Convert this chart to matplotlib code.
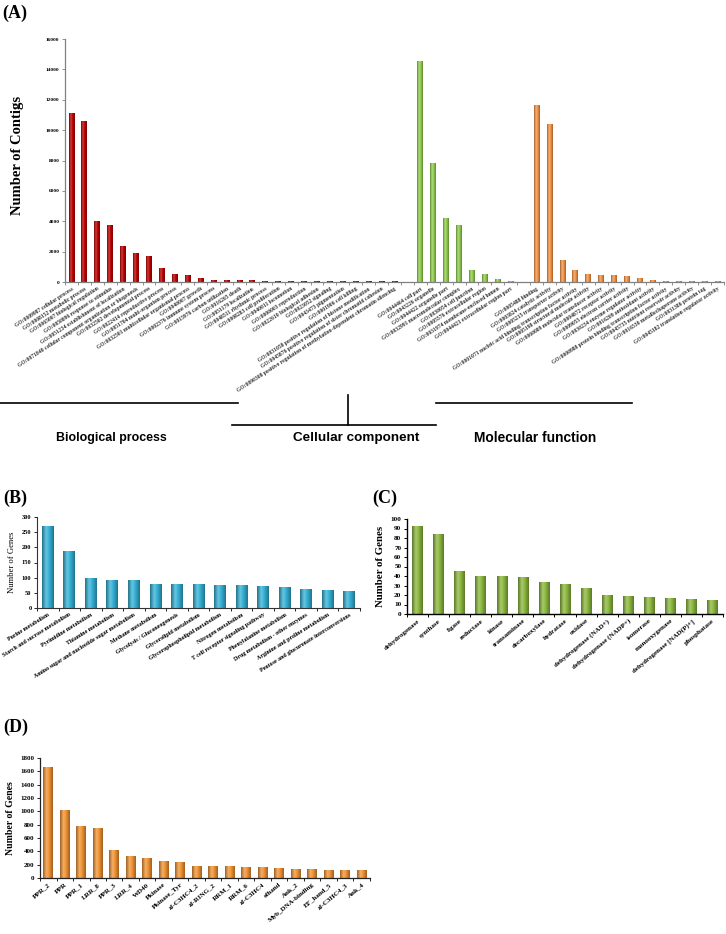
import numpy as np
import matplotlib
matplotlib.use('Agg')
import matplotlib.pyplot as plt
from matplotlib.colors import LinearSegmentedColormap, to_rgb
from matplotlib.lines import Line2D

# ---------------- data ----------------
bp_labels = [
    "GO:0009987 cellular process", "GO:0008152 metabolic process",
    "GO:0065007 biological regulation", "GO:0050896 response to stimulus",
    "GO:0051234 establishment of localization",
    "GO:0071840 cellular component organization or biogenesis",
    "GO:0032502 developmental process", "GO:0022414 reproductive process",
    "GO:0051704 multi-organism process", "GO:0032501 multicellular organismal process",
    "GO:0040007 growth", "GO:0002376 immune system process",
    "GO:0015976 carbon utilization", "GO:0016265 death", "GO:0051179 localization",
    "GO:0048511 rhythmic process", "GO:0008283 cell proliferation",
    "GO:0040011 locomotion", "GO:0000003 reproduction",
    "GO:0022610 biological adhesion", "GO:0023052 signaling",
    "GO:0043473 pigmentation", "GO:0001906 cell killing",
    "GO:0031058 positive regulation of histone modification",
    "GO:0045876 positive regulation of sister chromatid cohesion",
    "GO:0090308 positive regulation of methylation-dependent chromatin silencing",
]
bp_values = [11100, 10600, 4000, 3750, 2320, 1900, 1660, 860, 480, 440,
             260, 130, 120, 90, 70, 50, 20, 12, 10, 8, 6, 5, 4, 3, 2, 1]

cc_labels = [
    "GO:0044464 cell part", "GO:0043226 organelle", "GO:0044422 organelle part",
    "GO:0032991 macromolecular complex", "GO:0030054 cell junction",
    "GO:0005576 extracellular region", "GO:0031974 membrane-enclosed lumen",
    "GO:0044421 extracellular region part",
]
cc_values = [14500, 7800, 4200, 3700, 770, 480, 150, 30]

mf_labels = [
    "GO:0005488 binding", "GO:0003824 catalytic activity",
    "GO:0005215 transporter activity",
    "GO:0001071 nucleic acid binding transcription factor activity",
    "GO:0005198 structural molecule activity",
    "GO:0060089 molecular transducer activity", "GO:0004872 receptor activity",
    "GO:0009055 electron carrier activity", "GO:0030234 enzyme regulator activity",
    "GO:0016209 antioxidant activity",
    "GO:0000988 protein binding transcription factor activity",
    "GO:0045735 nutrient reservoir activity", "GO:0016530 metallochaperone activity",
    "GO:0031386 protein tag", "GO:0045182 translation regulator activity",
]
mf_values = [11600, 10400, 1425, 770, 505, 440, 440, 395, 240, 90, 40, 12, 6, 3, 2]

kegg_labels = [
    "Purine metabolism", "Starch and sucrose metabolism", "Pyrimidine metabolism",
    "Thiamine metabolism", "Amino sugar and nucleotide sugar metabolism",
    "Methane metabolism", "Glycolysis / Gluconeogenesis", "Glycerolipid metabolism",
    "Glycerophospholipid metabolism", "Nitrogen metabolism",
    "T cell receptor signaling pathway", "Phenylalanine metabolism",
    "Drug metabolism - other enzymes", "Arginine and proline metabolism",
    "Pentose and glucuronate interconversions",
]
kegg_values = [268, 187, 97, 92, 90, 78, 78, 78, 75, 74, 70, 68, 62, 57, 56]

enzyme_labels = [
    "dehydrogenase", "synthase", "ligase", "reductase", "kinase", "transaminase",
    "decarboxylase", "hydratase", "oxidase", "dehydrogenase (NAD+)",
    "dehydrogenase (NADP+)", "isomerase", "monooxygenase",
    "dehydrogenase [NAD(P)+]", "phosphatase",
]
enzyme_values = [92, 84, 45, 40, 39, 38, 33, 31, 27, 19, 18, 17, 16, 15, 14]

domain_labels = [
    "PPR_2", "PPR", "PPR_1", "LRR_8", "PPR_3", "LRR_4", "WD40", "Pkinase",
    "Pkinase_Tyr", "zf-C3HC4_2", "zf-RING_2", "RRM_1", "RRM_6", "zf-C3HC4",
    "efhand", "Ank_2", "Myb_DNA-binding", "EF_hand_5", "zf-C3HC4_3", "Ank_4",
]
domain_values = [1660, 1010, 770, 745, 410, 320, 300, 245, 230, 175, 170, 170,
                 160, 155, 145, 130, 125, 120, 120, 110]

# ---------------- style ----------------
SERIF = ['Liberation Serif', 'DejaVu Serif']
SANS = ['Liberation Sans', 'DejaVu Sans']
plt.rcParams['font.family'] = SERIF


def mix(c, f):
    c = np.array(to_rgb(c))
    if f >= 0:
        return tuple(c + (1 - c) * f)
    return tuple(c * (1 + f))


def grad_bars(ax, xs, hs, width, color):
    cmap = LinearSegmentedColormap.from_list(
        'g', [(0, mix(color, -0.35)), (0.35, mix(color, 0.25)),
              (0.6, color), (1, mix(color, -0.35))])
    g = np.linspace(0, 1, 64).reshape(1, -1)
    for x, h in zip(xs, hs):
        if h <= 0:
            continue
        ax.imshow(g, extent=(x - width / 2, x + width / 2, 0, h), aspect='auto',
                  cmap=cmap, interpolation='bilinear', zorder=2)


def style_axes(ax, spine_color='black', lw=0.8):
    for s in ['top', 'right']:
        ax.spines[s].set_visible(False)
    for s in ['left', 'bottom']:
        ax.spines[s].set_color(spine_color)
        ax.spines[s].set_linewidth(lw)


fig = plt.figure(figsize=(7.26, 9.34), dpi=100)
W, H = 726.0, 934.0


def add_ax(x0, y0, x1, y1):
    return fig.add_axes([x0 / W, 1 - y1 / H, (x1 - x0) / W, (y1 - y0) / H])


# ---------------- Panel A ----------------
a_labels = bp_labels + [""] + cc_labels + [""] + mf_labels
a_values = bp_values + [0] + cc_values + [0] + mf_values
a_colors = (["#C00000"] * len(bp_labels) + [None] + ["#92D050"] * len(cc_labels)
            + [None] + ["#F79646"] * len(mf_labels))
a_pos = np.arange(len(a_labels))

axA = add_ax(65, 39, 724, 282)
for c in ["#C00000", "#92D050", "#F79646"]:
    idx = [i for i, cc in enumerate(a_colors) if cc == c]
    grad_bars(axA, a_pos[idx], np.array(a_values)[idx], 0.45, c)
axA.set_xlim(-0.5, len(a_labels) - 0.5)
axA.set_ylim(0, 16000)
axA.set_yticks(np.arange(0, 16001, 2000))
axA.set_xticks(a_pos)
axA.set_xticklabels(a_labels, rotation=33, ha='right', va='top',
                    rotation_mode='anchor', fontsize=4.1, fontweight='bold')
axA.set_xticks(np.arange(-0.5, len(a_labels), 1), minor=True)
axA.tick_params(axis='x', which='major', length=0, pad=3, colors='#333333')
axA.tick_params(axis='x', which='minor', length=2, width=0.6, color='#808080')
axA.tick_params(axis='y', length=2, width=0.6, labelsize=3.9, pad=2,
                color='#808080')
for t in axA.get_yticklabels():
    t.set_fontweight('bold')
style_axes(axA, '#808080', 0.9)
axA.set_ylabel("Number of Contigs", fontsize=10.5, fontweight='bold')
axA.yaxis.set_label_coords(-0.062, 0.52)
fig.text(2 / W, 1 - 13 / H, "(A)", fontsize=13, fontweight='bold', va='center')

# group brackets
fig.add_artist(Line2D([0 / W, 238 / W], [1 - 403 / H] * 2, color='black', lw=1.2))
fig.add_artist(Line2D([436 / W, 632 / W], [1 - 403 / H] * 2, color='black', lw=1.2))
fig.add_artist(Line2D([348 / W, 348 / W], [1 - 395 / H, 1 - 425 / H], color='black', lw=1.2))
fig.add_artist(Line2D([232 / W, 436 / W], [1 - 425 / H] * 2, color='black', lw=1.2))
fig.text(111 / W, 1 - 438 / H, "Biological process", family=SANS, fontsize=8.9,
         fontweight='bold', ha='center', va='center')
fig.text(356 / W, 1 - 438 / H, "Cellular component", family=SANS, fontsize=9.7,
         fontweight='bold', ha='center', va='center')
fig.text(535 / W, 1 - 438 / H, "Molecular function", family=SANS, fontsize=9.9,
         fontweight='bold', ha='center', va='center')

# ---------------- Panel B ----------------
axB = add_ax(37, 517, 360, 608)
b_pos = np.arange(len(kegg_labels))
grad_bars(axB, b_pos, kegg_values, 0.55, "#35B1D6")
axB.set_xlim(-0.5, len(kegg_labels) - 0.5)
axB.set_ylim(0, 300)
axB.set_yticks(np.arange(0, 301, 50))
axB.set_xticks(b_pos)
axB.set_xticklabels(kegg_labels, rotation=32, ha='right', va='top',
                    rotation_mode='anchor', fontsize=4.3, fontweight='bold')
axB.set_xticks(np.arange(-0.5, len(kegg_labels), 1), minor=True)
axB.tick_params(axis='x', which='major', length=0, pad=3)
axB.tick_params(axis='x', which='minor', length=2, width=0.6)
axB.tick_params(axis='y', length=2, width=0.6, labelsize=4.6, pad=2)
for t in axB.get_yticklabels():
    t.set_fontweight('bold')
style_axes(axB, '#333333', 0.8)
axB.set_ylabel("Number of Genes", fontsize=6.2, labelpad=4)
fig.text(3 / W, 1 - 498 / H, "(B)", fontsize=13, fontweight='bold', va='center')

# ---------------- Panel C ----------------
axC = add_ax(407, 519, 723, 614)
c_pos = np.arange(len(enzyme_labels))
grad_bars(axC, c_pos, enzyme_values, 0.5, "#8DB83F")
axC.set_xlim(-0.45, len(enzyme_labels) - 0.5)
axC.set_ylim(0, 100)
axC.set_yticks(np.arange(0, 101, 10))
axC.set_xticks(c_pos)
axC.set_xticklabels(enzyme_labels, rotation=40, ha='right', va='top',
                    rotation_mode='anchor', fontsize=5.0, fontweight='bold')
axC.set_xticks(np.arange(-0.5, len(enzyme_labels), 1), minor=True)
axC.tick_params(axis='x', which='major', length=0, pad=3)
axC.tick_params(axis='x', which='minor', length=2, width=0.7)
axC.tick_params(axis='y', length=2, width=0.7, labelsize=5.2, pad=2)
for t in axC.get_yticklabels():
    t.set_fontweight('bold')
style_axes(axC, 'black', 1.0)
axC.set_ylabel("Number of Genes", fontsize=7.8, fontweight='bold', labelpad=4)
fig.text(372 / W, 1 - 498 / H, "(C)", fontsize=13, fontweight='bold', va='center')

# ---------------- Panel D ----------------
axD = add_ax(40, 758, 370, 878)
d_pos = np.arange(len(domain_labels))
grad_bars(axD, d_pos, domain_values, 0.6, "#F29434")
axD.set_xlim(-0.5, len(domain_labels) - 0.5)
axD.set_ylim(0, 1800)
axD.set_yticks(np.arange(0, 1801, 200))
axD.set_xticks(d_pos)
axD.set_xticklabels(domain_labels, rotation=40, ha='right', va='top',
                    rotation_mode='anchor', fontsize=5.0, fontweight='bold')
axD.set_xticks(np.arange(-0.5, len(domain_labels), 1), minor=True)
axD.tick_params(axis='x', which='major', length=0, pad=3)
axD.tick_params(axis='x', which='minor', length=2, width=0.6)
axD.tick_params(axis='y', length=2, width=0.6, labelsize=5.0, pad=2)
for t in axD.get_yticklabels():
    t.set_fontweight('bold')
style_axes(axD, '#222222', 0.9)
axD.set_ylabel("Number of Genes", fontsize=7.0, fontweight='bold', labelpad=4)
fig.text(3 / W, 1 - 727 / H, "(D)", fontsize=13, fontweight='bold', va='center')

fig.savefig("out.png", dpi=100)
